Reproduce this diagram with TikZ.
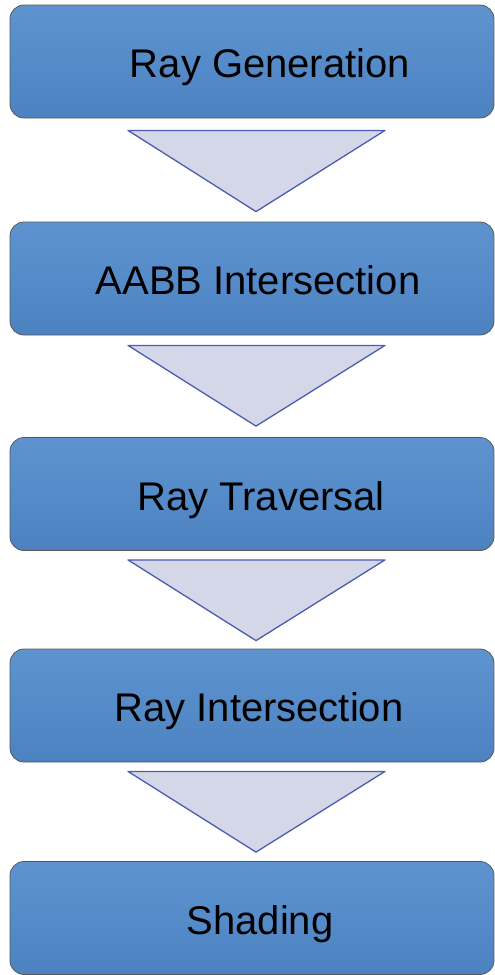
\documentclass[tikz,border=0pt]{standalone}
\usepackage{fontspec}
\setmainfont{Liberation Sans}
\usetikzlibrary{calc}
\definecolor{boxtop}{HTML}{5D94D0}
\definecolor{boxbot}{HTML}{4C82C0}
\definecolor{trifill}{HTML}{D4D7E7}
\definecolor{triline}{HTML}{4C5CB0}
\begin{document}
\begin{tikzpicture}[x=1pt,y=-1pt,
  stage/.style={draw=black!65, line width=0.8pt, rounded corners=14pt,
    top color=boxtop, bottom color=boxbot, minimum width=484pt,
    minimum height=113pt, inner sep=0pt, text height=32pt, text depth=0pt,
    font=\fontsize{40}{48}\selectfont, text=black},
  flow/.style={draw=triline, line width=1.3pt, fill=trifill, line join=round}]
\useasboundingbox (0,0) rectangle (495,975);
\node[stage] (b1) at (252,61.5) {\hspace*{36pt}Ray Generation};
\node[stage] (b2) at (252,278.5) {\hspace*{12pt}AABB Intersection};
\node[stage] (b3) at (252,494) {\hspace*{18pt}Ray Traversal};
\node[stage] (b4) at (252,705.5) {\hspace*{14pt}Ray Intersection};
\node[stage] (b5) at (252,918) {\hspace*{16pt}Shading};
\draw[flow] ($(b1.south)+(-124,12)$) -- ($(b1.south)+(133,12)$) -- ($(b2.north)+(4,-10)$) -- cycle;
\draw[flow] ($(b2.south)+(-124,10)$) -- ($(b2.south)+(133,10)$) -- ($(b3.north)+(4,-11)$) -- cycle;
\draw[flow] ($(b3.south)+(-124,9)$) -- ($(b3.south)+(133,9)$) -- ($(b4.north)+(4,-8)$) -- cycle;
\draw[flow] ($(b4.south)+(-124,9)$) -- ($(b4.south)+(133,9)$) -- ($(b5.north)+(4,-9)$) -- cycle;
\end{tikzpicture}
\end{document}
